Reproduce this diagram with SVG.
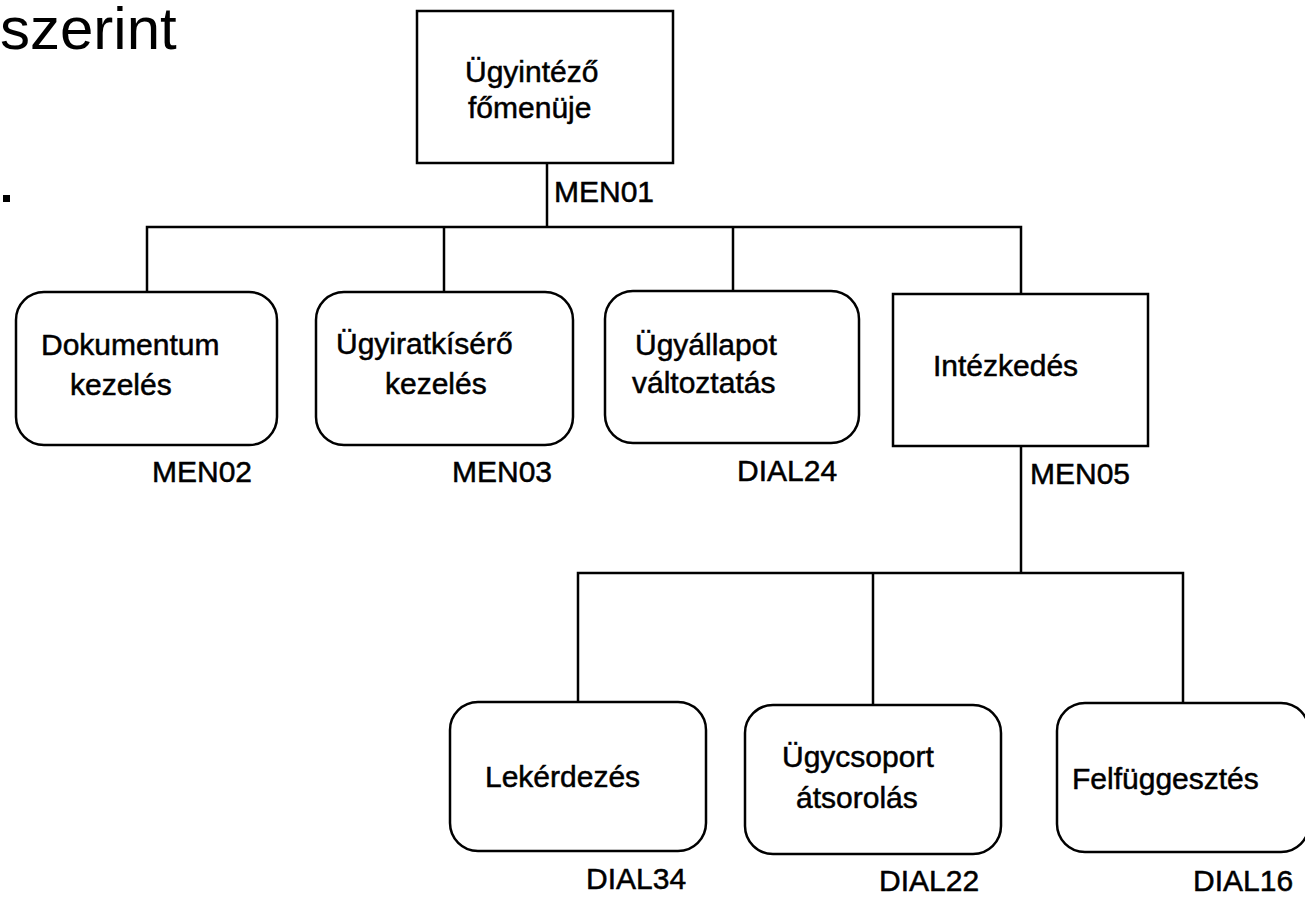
<svg xmlns="http://www.w3.org/2000/svg" width="1305" height="901" viewBox="0 0 1305 901">
  <style>
    .box { fill: #ffffff; stroke: #000000; stroke-width: 2.5; }
    .wire { fill: none; stroke: #000000; stroke-width: 2.5; }
    .lbl, .code { font-family: "Liberation Sans", Arial, sans-serif; font-size: 30px; fill: #000000; stroke: #000000; stroke-width: 0.5; }
    .title { font-family: "Liberation Sans", Arial, sans-serif; font-size: 60px; fill: #000000; }
  </style>
  <rect width="1305" height="901" fill="#ffffff"/>

  <!-- slide heading fragment and bullet -->
  <text class="title" x="0" y="49">szerint</text>
  <rect x="3" y="195" width="7" height="7" fill="#000000"/>

  <!-- connectors -->
  <g id="connectors">
    <path class="wire" d="M547 163 V227"/>
    <path class="wire" d="M147 292 V227 H1021 V294"/>
    <path class="wire" d="M444 227 V292"/>
    <path class="wire" d="M733 227 V291"/>
    <path class="wire" d="M1021 446 V573"/>
    <path class="wire" d="M578 702 V573 H1183 V703"/>
    <path class="wire" d="M873 573 V705"/>
  </g>

  <g id="n-fomenu">
    <rect class="box" x="417" y="11" width="256" height="152"/>
    <text class="lbl" x="465" y="82">Ügyintéző</text>
    <text class="lbl" x="468" y="118">főmenüje</text>
    <text class="code" x="554" y="202">MEN01</text>
  </g>

  <g id="n-dokumentum">
    <rect class="box" x="16" y="292" width="261" height="153" rx="28" ry="28"/>
    <text class="lbl" x="41" y="355">Dokumentum</text>
    <text class="lbl" x="70" y="395">kezelés</text>
    <text class="code" x="152" y="482">MEN02</text>
  </g>

  <g id="n-ugyiratkisero">
    <rect class="box" x="316" y="292" width="257" height="153" rx="28" ry="28"/>
    <text class="lbl" x="336" y="354">Ügyiratkísérő</text>
    <text class="lbl" x="385" y="394">kezelés</text>
    <text class="code" x="452" y="482">MEN03</text>
  </g>

  <g id="n-ugyallapot">
    <rect class="box" x="605" y="291" width="254" height="152" rx="28" ry="28"/>
    <text class="lbl" x="635" y="355">Ügyállapot</text>
    <text class="lbl" x="632" y="393">változtatás</text>
    <text class="code" x="737" y="481">DIAL24</text>
  </g>

  <g id="n-intezkedes">
    <rect class="box" x="893" y="294" width="255" height="152"/>
    <text class="lbl" x="933" y="376">Intézkedés</text>
    <text class="code" x="1030" y="484">MEN05</text>
  </g>

  <g id="n-lekerdezes">
    <rect class="box" x="450" y="702" width="256" height="149" rx="28" ry="28"/>
    <text class="lbl" x="485" y="787">Lekérdezés</text>
    <text class="code" x="586" y="889">DIAL34</text>
  </g>

  <g id="n-ugycsoport">
    <rect class="box" x="745" y="705" width="256" height="149" rx="28" ry="28"/>
    <text class="lbl" x="782" y="767">Ügycsoport</text>
    <text class="lbl" x="796" y="808">átsorolás</text>
    <text class="code" x="879" y="891">DIAL22</text>
  </g>

  <g id="n-felfuggesztes">
    <rect class="box" x="1057" y="703" width="252" height="149" rx="28" ry="28"/>
    <text class="lbl" x="1072" y="789">Felfüggesztés</text>
    <text class="code" x="1193" y="891">DIAL16</text>
  </g>
</svg>
